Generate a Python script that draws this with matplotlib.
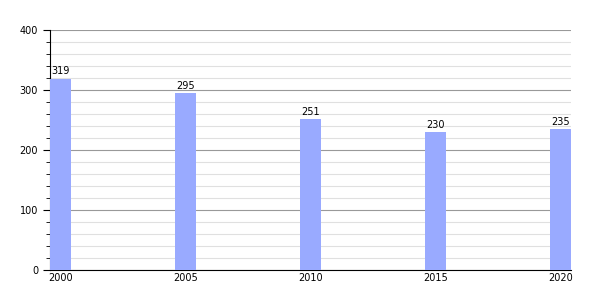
import matplotlib.pyplot as plt
from matplotlib.ticker import MultipleLocator

years = [2000, 2005, 2010, 2015, 2020]
values = [319, 295, 251, 230, 235]

fig = plt.figure(figsize=(6, 3), dpi=100)
ax = fig.add_axes([0.0833, 0.1, 0.8685, 0.8])

bar_w = 0.84
ax.bar(years, values, width=bar_w, align='edge', color='#99aaff', zorder=3)
for x, v in zip(years, values):
    ax.text(x + bar_w / 2, v + 4, str(v), ha='center', va='bottom', fontsize=7, zorder=4)

ax.set_xlim(2000, 2020 + bar_w)
ax.set_ylim(0, 400)
ax.set_xticks([y + bar_w / 2 for y in years])
ax.set_xticklabels([str(y) for y in years])
ax.tick_params(axis='x', length=0, labelsize=7, pad=2)
ax.yaxis.set_major_locator(MultipleLocator(100))
ax.yaxis.set_minor_locator(MultipleLocator(20))
ax.tick_params(axis='y', which='major', length=5, labelsize=7, direction='out')
ax.tick_params(axis='y', which='minor', length=3, direction='out')
ax.grid(axis='y', which='major', color='#999999', linewidth=0.8, zorder=0)
ax.grid(axis='y', which='minor', color='#e0e0e0', linewidth=0.8, zorder=0)

for s in ['top', 'right']:
    ax.spines[s].set_visible(False)
ax.spines['left'].set_linewidth(0.8)
ax.spines['bottom'].set_linewidth(0.8)

fig.savefig('out.png', dpi=100)
